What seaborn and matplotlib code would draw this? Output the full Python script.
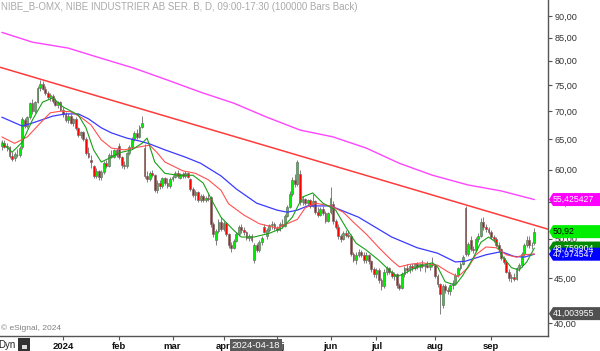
import numpy as np
import pandas as pd
import matplotlib
matplotlib.use("Agg")
import matplotlib.pyplot as plt
import matplotlib.transforms as mtransforms
from matplotlib.patches import Polygon, Rectangle
from matplotlib.ticker import FixedLocator, FuncFormatter, NullLocator
import seaborn as sns

sns.set_theme(style="white")
plt.rcParams['font.family'] = ['Liberation Sans', 'DejaVu Sans']

# Stockholm trading days shown on the chart
HOLIDAYS = ["2023-12-25", "2023-12-26", "2024-01-01", "2024-03-29", "2024-04-01",
            "2024-05-01", "2024-05-09", "2024-06-06", "2024-06-21"]
FIRST_DAY = "2023-11-24"
LAST_DAY = "2024-09-25"
MONTH_LABELS = {1: "2024", 2: "feb", 3: "mar", 4: "apr", 5: "maj",
                6: "jun", 7: "jul", 8: "aug", 9: "sep"}
CURSOR_DATE = "2024-04-18"

# daily OHLC (SEK)
opens = [63.8, 64.4, 63.7, 63.6, 62.2, 61.8, 62.4, 62.3, 63.6, 68.4,
         67.3, 68.9, 71.5, 70.0, 71.8, 74.5, 75.3, 74.3, 73.4, 72.6,
         72.8, 71.9, 71.2, 71.7, 70.3, 69.4, 68.3, 69.2, 67.9, 68.5,
         66.9, 65.7, 66.2, 65.0, 62.7, 61.6, 60.5, 59.0, 59.8, 58.8,
         59.6, 61.1, 60.6, 62.3, 62.1, 63.1, 63.8, 62.0, 60.7, 60.5,
         62.6, 63.7, 65.0, 66.1, 65.4, 67.2, 63.5, 59.0, 58.5, 59.5,
         59.1, 56.9, 57.9, 57.4, 58.6, 57.9, 57.4, 58.5, 58.9, 59.4,
         58.7, 59.3, 59.0, 59.4, 58.5, 57.0, 56.1, 56.5, 55.4, 55.9,
         55.3, 55.7, 55.8, 51.9, 49.8, 51.0, 52.3, 51.3, 52.1, 50.6,
         49.2, 48.8, 49.7, 50.6, 51.5, 51.1, 50.9, 50.1, 50.4, 47.3,
         49.1, 48.5, 49.5, 51.6, 50.3, 51.1, 51.8, 52.0, 51.4, 51.2,
         52.0, 51.7, 53.1, 54.4, 56.3, 58.4, 57.7, 59.3, 55.0, 55.5,
         54.9, 55.3, 54.5, 55.2, 53.7, 53.2, 54.0, 53.5, 52.4, 53.6,
         54.8, 52.4, 51.6, 50.3, 50.0, 50.8, 50.5, 50.4, 48.0, 47.3,
         47.9, 48.3, 47.9, 47.2, 47.9, 47.1, 46.1, 45.5, 46.0, 44.8,
         44.1, 45.8, 46.2, 45.8, 45.3, 45.5, 44.2, 43.9, 45.5, 46.2,
         46.0, 46.5, 46.2, 46.7, 46.4, 46.7, 46.5, 46.6, 46.4, 46.7,
         46.6, 45.3, 44.3, 42.0, 44.1, 43.6, 43.5, 44.2, 44.5, 45.4,
         46.2, 46.8, 54.2, 48.0, 49.8, 48.7, 48.5, 49.9, 50.4, 52.2,
         51.5, 51.3, 50.9, 50.2, 49.9, 49.2, 48.6, 47.5, 47.0, 45.8,
         45.0, 45.2, 44.9, 46.2, 46.6, 48.0, 49.2, 49.8, 49.1, 49.4]
highs = [64.8, 64.9, 64.3, 63.9, 62.9, 62.8, 63.4, 63.8, 68.9, 68.8,
         69.2, 71.8, 72.3, 72.0, 74.8, 76.0, 75.8, 74.8, 73.9, 73.4,
         73.2, 72.4, 72.0, 71.9, 70.8, 69.9, 69.6, 69.5, 68.8, 68.9,
         67.2, 66.5, 66.4, 65.3, 63.6, 62.3, 60.8, 60.2, 60.0, 59.9,
         61.4, 61.6, 62.6, 63.2, 63.4, 63.5, 64.3, 62.2, 61.3, 62.9,
         64.0, 65.3, 66.4, 66.8, 67.5, 69.2, 64.2, 59.8, 59.8, 59.9,
         59.3, 58.3, 58.4, 58.8, 58.9, 58.6, 58.8, 59.2, 59.7, 59.9,
         59.5, 59.6, 59.7, 59.6, 58.7, 57.3, 56.8, 56.7, 56.2, 56.3,
         56.0, 56.2, 56.0, 52.2, 51.3, 52.6, 52.9, 52.4, 52.3, 50.8,
         49.6, 50.0, 50.9, 51.8, 51.9, 51.6, 51.0, 50.6, 50.6, 49.4,
         49.4, 49.8, 50.4, 51.9, 51.4, 52.0, 52.4, 52.2, 51.7, 52.3,
         52.6, 53.3, 54.7, 56.7, 58.9, 59.3, 61.6, 59.9, 55.9, 55.7,
         55.5, 55.5, 56.2, 55.4, 54.3, 54.3, 54.5, 53.8, 53.7, 57.3,
         55.2, 52.7, 51.9, 50.6, 51.0, 51.1, 51.1, 50.6, 48.3, 48.2,
         48.6, 48.5, 48.2, 48.2, 48.0, 47.3, 46.4, 46.3, 46.2, 45.0,
         46.1, 46.5, 46.4, 46.0, 45.8, 45.7, 44.5, 45.8, 46.5, 46.8,
         46.7, 46.9, 46.9, 47.0, 46.9, 47.2, 46.8, 47.1, 46.9, 47.6,
         46.8, 45.5, 44.5, 44.3, 44.3, 44.0, 44.4, 44.8, 45.6, 46.4,
         47.0, 47.9, 54.5, 49.6, 50.3, 49.0, 50.2, 50.7, 52.8, 52.9,
         51.9, 51.6, 51.1, 50.5, 50.2, 49.5, 48.8, 47.7, 47.2, 46.1,
         45.5, 45.6, 46.4, 46.9, 48.3, 49.4, 50.3, 50.3, 49.5, 51.4]
lows = [63.2, 63.5, 63.0, 61.8, 61.3, 61.4, 62.0, 62.1, 63.4, 67.0,
        67.0, 68.6, 69.5, 69.6, 71.5, 73.9, 74.0, 73.0, 72.3, 71.9,
        71.6, 70.9, 70.6, 70.0, 69.0, 68.0, 67.8, 67.6, 67.4, 66.6,
        65.4, 65.2, 64.7, 62.4, 61.8, 60.2, 58.6, 58.7, 58.3, 58.4,
        59.3, 60.3, 60.4, 61.8, 61.9, 62.0, 61.7, 60.3, 60.1, 60.3,
        62.4, 63.4, 64.7, 65.0, 65.2, 66.9, 58.7, 58.0, 58.2, 58.8,
        56.5, 56.4, 57.0, 57.2, 57.6, 57.2, 57.2, 58.2, 58.6, 58.7,
        58.5, 58.7, 58.6, 58.6, 56.7, 55.8, 55.3, 55.0, 55.0, 55.0,
        55.0, 55.2, 51.6, 50.2, 49.2, 50.8, 51.0, 51.0, 50.3, 48.8,
        48.3, 48.6, 49.5, 50.4, 50.8, 50.5, 49.8, 49.7, 49.6, 46.9,
        48.2, 48.3, 49.2, 50.7, 50.0, 50.9, 51.3, 51.1, 50.9, 51.0,
        51.4, 51.5, 52.9, 54.2, 56.0, 57.3, 57.5, 54.7, 54.6, 54.6,
        54.5, 54.2, 54.3, 53.4, 52.9, 53.0, 53.2, 52.1, 52.2, 53.4,
        52.0, 51.3, 50.0, 49.6, 49.8, 50.2, 50.1, 47.7, 47.0, 46.8,
        47.6, 47.6, 46.9, 46.9, 46.8, 45.8, 45.2, 45.1, 44.5, 43.6,
        43.9, 45.4, 45.5, 45.0, 44.8, 43.9, 43.7, 43.8, 45.2, 45.7,
        45.6, 45.9, 46.0, 46.1, 45.9, 46.3, 45.8, 46.2, 46.0, 46.4,
        45.0, 44.0, 41.0, 41.6, 43.3, 43.2, 43.1, 43.8, 44.3, 45.2,
        46.0, 46.6, 47.8, 47.8, 48.4, 48.1, 48.3, 49.6, 50.2, 51.2,
        50.9, 50.6, 49.9, 49.6, 48.9, 48.3, 47.2, 46.7, 45.6, 44.7,
        44.6, 44.7, 44.8, 45.9, 46.4, 47.8, 48.9, 48.8, 48.7, 49.2]
closes = [64.4, 63.7, 63.9, 62.2, 61.7, 62.5, 62.3, 63.5, 68.5, 67.3,
          68.9, 71.5, 70.0, 71.8, 74.5, 75.3, 74.3, 73.4, 72.6, 73.0,
          71.9, 71.2, 71.7, 70.3, 69.4, 68.3, 69.2, 67.9, 68.5, 66.9,
          65.7, 66.2, 65.0, 62.7, 62.0, 61.2, 59.0, 59.8, 58.8, 59.6,
          61.1, 60.6, 62.3, 62.1, 63.1, 62.4, 62.0, 60.7, 60.5, 62.6,
          63.7, 65.0, 66.1, 65.4, 67.2, 67.8, 59.0, 58.5, 59.5, 59.1,
          56.9, 57.9, 57.4, 58.6, 57.9, 57.4, 58.5, 58.9, 59.4, 59.0,
          59.3, 59.0, 59.4, 58.9, 57.0, 56.1, 56.5, 55.4, 55.9, 55.3,
          55.7, 55.5, 51.9, 50.6, 51.0, 52.3, 51.3, 52.1, 50.6, 49.2,
          48.8, 49.7, 50.6, 51.5, 51.1, 50.9, 50.1, 50.4, 49.8, 49.1,
          48.5, 49.5, 50.1, 50.9, 51.1, 51.8, 52.0, 51.4, 51.2, 52.0,
          51.7, 53.1, 54.4, 56.3, 58.4, 57.7, 61.2, 55.0, 55.5, 54.9,
          55.3, 54.5, 55.2, 53.7, 53.2, 54.0, 53.5, 52.4, 53.5, 55.7,
          52.4, 51.6, 50.3, 50.0, 50.8, 50.5, 50.4, 48.0, 47.3, 47.9,
          48.3, 47.9, 47.2, 47.9, 47.1, 46.1, 45.5, 46.0, 44.8, 44.1,
          45.8, 46.2, 45.8, 45.3, 45.5, 44.2, 43.9, 45.5, 46.2, 46.0,
          46.5, 46.2, 46.7, 46.4, 46.7, 46.5, 46.6, 46.4, 46.7, 46.6,
          45.3, 44.3, 43.2, 44.1, 43.6, 43.5, 44.2, 44.5, 45.4, 46.2,
          46.8, 47.6, 48.0, 49.3, 48.7, 48.5, 49.9, 50.4, 52.2, 51.5,
          51.3, 50.9, 50.2, 49.9, 49.2, 48.6, 47.5, 47.0, 45.8, 45.0,
          45.2, 44.9, 46.2, 46.6, 48.0, 49.2, 49.8, 49.1, 49.2, 50.92]

# moving averages, sampled along the curves (bar index, price)
ma_fast_idx = [0, 4, 8, 12, 16, 20, 24, 30, 33, 36, 39, 42, 46, 51, 55, 57, 60, 64, 69, 75,
               79, 83, 86, 91, 94, 99, 105, 110, 114, 118, 122, 126, 131, 135, 139, 143, 148,
               152, 155, 158, 163, 169, 171, 174, 178, 181, 185, 188, 191, 194, 196, 200,
               203, 206, 209]
ma_fast = [64.5, 62.8, 64.5, 68.4, 71.7, 72.5, 70.8, 69.3, 67.0, 63.2, 61.2, 61.8, 62.7,
           63.2, 64.3, 65.2, 61.2, 59.4, 59.1, 59.1, 57.9, 54.9, 52.9, 51.1, 50.2, 50.2,
           50.7, 51.4, 52.9, 55.8, 56.4, 54.9, 53.9, 51.5, 49.4, 48.5, 47.2, 46.0, 45.2,
           45.6, 46.4, 46.9, 46.4, 44.6, 44.2, 45.4, 47.5, 49.5, 50.2, 49.5, 47.9, 46.3,
           46.0, 47.0, 48.76]
ma_mid_idx = [0, 5, 10, 15, 19, 23, 27, 31, 35, 39, 43, 48, 54, 58, 61, 64, 71, 76, 81, 86,
              89, 95, 101, 108, 112, 116, 119, 123, 129, 134, 138, 143, 148, 153, 156, 160,
              165, 171, 175, 179, 183, 186, 190, 194, 198, 202, 205, 209]
ma_mid = [65.4, 64.3, 65.4, 67.8, 69.7, 70.0, 69.9, 68.9, 67.5, 64.9, 63.5, 63.2, 63.7,
          64.0, 62.7, 61.2, 59.8, 59.4, 58.4, 56.8, 54.8, 53.2, 52.0, 51.4, 52.0, 52.6,
          54.2, 54.9, 54.5, 53.6, 52.2, 50.6, 48.8, 47.2, 46.4, 46.7, 46.9, 46.6, 45.8,
          45.2, 46.3, 47.9, 48.9, 48.8, 47.9, 47.6, 47.9, 48.0]
ma_slow_idx = [0, 8, 13, 20, 25, 30, 34, 39, 43, 49, 54, 58, 64, 72, 78, 86, 92, 100, 108,
               112, 116, 120, 129, 140, 153, 163, 171, 178, 182, 190, 196, 201, 205, 209]
ma_slow = [68.9, 67.3, 68.0, 69.1, 69.5, 69.5, 68.6, 67.0, 66.1, 65.2, 64.7, 64.2, 63.2,
           62.0, 61.0, 59.0, 57.0, 54.9, 53.9, 53.6, 53.9, 54.5, 54.5, 52.9, 50.2, 48.8,
           48.1, 47.0, 47.1, 47.9, 48.3, 47.7, 47.6, 47.974547]
ma_long_idx = [0, 12, 26, 39, 52, 65, 78, 91, 104, 117, 130, 143, 156, 169, 183, 196, 209]
ma_long = [86.2, 84.0, 82.7, 80.5, 78.4, 76.0, 73.6, 71.5, 68.9, 66.6, 65.4, 63.5, 61.0,
           59.1, 57.6, 56.7, 55.425427]

# resistance trend line through two points
trend_idx = [0, 209]
trend_px = [78.5, 51.8]

# last-value flags on the price scale
flag_values = [55.425427, 50.92, 48.759904, 47.974547, 41.003955]
flag_texts = ["55,425427", "50,92", "48,759904", "47,974547", "41,003955"]
flag_faces = ["#ff00ff", "#00ee00", "#008a00", "#0000ff", "#505050"]
flag_inks = ["white", "black", "white", "white", "white"]

Y_TICKS = [40, 45, 50, 55, 60, 65, 70, 75, 80, 85, 90]

days = pd.bdate_range(FIRST_DAY, LAST_DAY)
days = days[~days.isin(pd.to_datetime(HOLIDAYS))]
bars = pd.DataFrame({"date": days, "open": opens, "high": highs,
                     "low": lows, "close": closes})
bars["idx"] = np.arange(len(bars))
bars["up"] = bars["close"] >= bars["open"]

# month ticks at the first trading day of each 2024 month
firsts = bars[bars["date"].dt.year == 2024].groupby(bars["date"].dt.month).head(1)

W, H = 600, 351
AX_W, AX_H, AX_B = 548, 336, 15
YMIN, YMAX = 38.65, 93.9

fig = plt.figure(figsize=(W / 100, H / 100), dpi=100)
ax = fig.add_axes([0, AX_B / H, AX_W / W, AX_H / H])
ax.set_facecolor("white")

# candles
ax.vlines(bars["idx"], bars["low"], bars["high"], color="#808080", lw=0.7, zorder=2)
for is_up, face in [(True, "#00ee00"), (False, "#ff0000")]:
    sub = bars[bars["up"] == is_up]
    ax.bar(sub["idx"], (sub["close"] - sub["open"]).abs(),
           bottom=np.minimum(sub["open"], sub["close"]), width=0.72,
           color=face, edgecolor="#707070", linewidth=0.5, zorder=3)

# moving averages
sns.lineplot(x=ma_long_idx, y=ma_long, ax=ax, color="#ff44ff", lw=1.0, estimator=None, zorder=4)
sns.lineplot(x=ma_slow_idx, y=ma_slow, ax=ax, color="#3a3aff", lw=0.9, estimator=None, zorder=4)
sns.lineplot(x=ma_mid_idx, y=ma_mid, ax=ax, color="#ff5050", lw=0.8, estimator=None, zorder=4)
sns.lineplot(x=ma_fast_idx, y=ma_fast, ax=ax, color="#18a018", lw=0.8, estimator=None, zorder=4)
ax.axline((trend_idx[0], trend_px[0]), (trend_idx[1], trend_px[1]),
          color="#ff3b3b", lw=1.1, zorder=4)

ax.set_yscale("log")
ax.set_xlim(-0.73, 214.35)
ax.set_ylim(YMIN, YMAX)
ax.set_xlabel("")
ax.set_ylabel("")

# right price scale
ax.yaxis.tick_right()
ax.yaxis.set_major_locator(FixedLocator(Y_TICKS))
ax.yaxis.set_minor_locator(NullLocator())
ax.yaxis.set_major_formatter(FuncFormatter(lambda v, p: f"{v:.2f}".replace(".", ",")))
ax.tick_params(axis="y", direction="out", length=3, width=0.8, color="#555555",
               labelsize=6.6, labelcolor="#333333", pad=1.5, right=True, left=False)

# date scale
ax.set_xticks(firsts["idx"])
ax.set_xticklabels([MONTH_LABELS[m] for m in firsts["date"].dt.month])
ax.tick_params(axis="x", direction="out", length=3, width=0.8, color="#555555",
               labelsize=6.8, labelcolor="#111111", pad=1.5, bottom=True)
for lab in ax.get_xticklabels():
    lab.set_fontweight("bold")

for side in ["left", "top"]:
    ax.spines[side].set_visible(False)
for side in ["right", "bottom"]:
    ax.spines[side].set_color("#555555")
    ax.spines[side].set_linewidth(1.0)

# value flags on the right
px_per_ln = AX_H / np.log(YMAX / YMIN)
half = np.exp(6.5 / px_per_ln)
blend = mtransforms.blended_transform_factory(ax.transAxes, ax.transData)
x_tip, x_sh, x_end = 1.0 + 1 / AX_W, 1.0 + 5 / AX_W, W / AX_W
for v, t, fc, ink in zip(flag_values, flag_texts, flag_faces, flag_inks):
    poly = Polygon([(x_tip, v), (x_sh, v * half), (x_end, v * half),
                    (x_end, v / half), (x_sh, v / half)], closed=True,
                   transform=blend, facecolor=fc, edgecolor="none",
                   clip_on=False, zorder=10)
    ax.add_patch(poly)
    ax.text(1.0 + 5 / AX_W, v, t, transform=blend, ha="left", va="center",
            fontsize=6.3, color=ink, clip_on=False, zorder=11)

# texts inside the pane
ax.text(1 / AX_W, 1 - 7 / AX_H,
        "NIBE_B-OMX, NIBE INDUSTRIER AB SER. B, D, 09:00-17:30 (100000 Bars Back)",
        transform=ax.transAxes, ha="left", va="center", fontsize=7, color="#aaaaaa")
ax.text(1 / AX_W, 8 / AX_H, "\u00a9 eSignal, 2024", transform=ax.transAxes,
        ha="left", va="center", fontsize=6, color="#808080")

# crosshair date box on the time scale
cursor_idx = bars.index[bars["date"] == pd.Timestamp(CURSOR_DATE)][0]
xblend = mtransforms.blended_transform_factory(ax.transData, ax.transAxes)
ax.text(cursor_idx + 0.6, -9 / AX_H, CURSOR_DATE, transform=xblend, ha="center",
        va="center", fontsize=6.8, color="white", clip_on=False, zorder=12,
        bbox=dict(boxstyle="square,pad=0.18", fc="#5a5a5a", ec="none"))

# "Dyn" and lock button at bottom left
fig.text(-2 / W, 6 / H, "Dyn", ha="left", va="center", fontsize=7, color="#222222")
fig.patches.append(Rectangle((18 / W, 0), 12 / W, 13 / H, transform=fig.transFigure,
                             facecolor="#333333", edgecolor="none"))
fig.patches.append(Rectangle((21.5 / W, 2.5 / H), 5 / W, 4 / H, transform=fig.transFigure,
                             facecolor="#dddddd", edgecolor="none"))

fig.savefig("out.png", dpi=100, facecolor="white")
